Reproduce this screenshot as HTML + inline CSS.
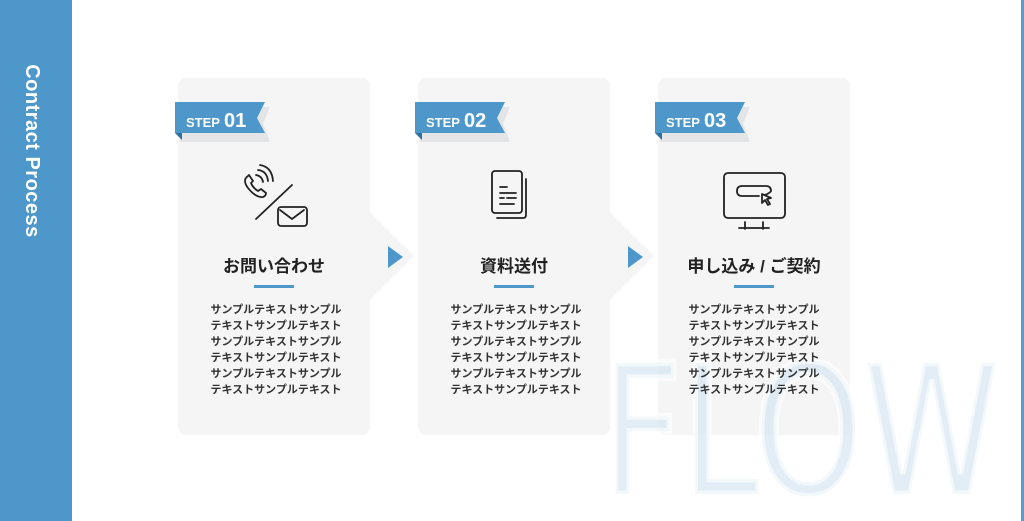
<!DOCTYPE html>
<html><head><meta charset="utf-8"><style>
html,body{margin:0;padding:0;background:#fff;width:1024px;height:521px;overflow:hidden}
svg{display:block}
</style></head><body>
<svg width="1024" height="521" viewBox="0 0 1024 521" xmlns="http://www.w3.org/2000/svg" font-family="'Liberation Sans','Noto Sans CJK JP',sans-serif">
<rect x="0" y="0" width="72" height="521" fill="#4e97cb"/>
<rect x="1021" y="0" width="3" height="521" fill="#5b9ccf"/>
<text transform="translate(26,151) rotate(90)" text-anchor="middle" fill="#fff" font-size="20" font-weight="bold" letter-spacing="0.5">Contract Process</text>

<g fill="#f5f5f5">
<rect x="178" y="78" width="192" height="357" rx="8"/>
<polygon points="370,212 414,256 370,300"/>
<rect x="418" y="78" width="192" height="357" rx="8"/>
<polygon points="610,212 654,256 610,300"/>
<rect x="658" y="78" width="192" height="357" rx="8"/>
</g>
<g fill="#4e97cb">
<polygon points="388,246 403,257 388,268"/>
<polygon points="628,246 643,257 628,268"/>
</g>

<text x="602" y="494" font-size="180" fill="#d6e6f2" fill-opacity="0.7" textLength="398" lengthAdjust="spacingAndGlyphs" font-family="'DejaVu Sans','Liberation Sans',sans-serif" stroke="#fff" stroke-opacity="0.6" stroke-width="7">FLOW</text>

<!-- badges -->
<g id="b1">
<polygon points="180,107 270,107 263,124 270,142 180,142" fill="#e3e4e6"/>
<polygon points="175,102 265,102 257,118 265,133 175,133" fill="#4e97cb"/>
<polygon points="175,133 182,133 182,140" fill="#2f6f9e"/>
</g>
<use href="#b1" x="240"/>
<use href="#b1" x="480"/>
<g fill="#fff" font-weight="bold">
<text x="186" y="127"><tspan font-size="13">STEP</tspan><tspan font-size="20" dx="4">01</tspan></text>
<text x="426" y="127"><tspan font-size="13">STEP</tspan><tspan font-size="20" dx="4">02</tspan></text>
<text x="666" y="127"><tspan font-size="13">STEP</tspan><tspan font-size="20" dx="4">03</tspan></text>
</g>

<!-- icons -->
<g fill="none" stroke="#222" stroke-width="1.8" stroke-linecap="round" stroke-linejoin="round">
<path d="M248,176 q-6,4 0,12 q8,10 15,9 q3,-1 3,-4 l-5,-4 l-3,2 q-5,-3 -7,-8 l2,-2 l-4,-6 z"/>
<path d="M256,175 q6,1 7,7 M258,170 q9,1 10,11 M260,165 q12,2 13,16"/>
<line x1="256" y1="219" x2="292" y2="185"/>
<rect x="278" y="207" width="29" height="19" rx="3"/>
<path d="M280,210 l12,9 l12,-9"/>
<rect x="492" y="171" width="30" height="42" rx="3"/>
<path d="M526,179 v36 q0,3 -3,3 h-26"/>
<path d="M500,187 h7 M500,193 h16 M500,198 h4 M507,198 h9 M500,204 h14"/>
<rect x="724" y="173" width="61" height="45" rx="4"/>
<path d="M745,222 v7 M763,222 v7 M739,228 h30"/>
<path d="M765,195 q5,-2 6,-4 q0,-5 -5,-5 h-24 q-5,0 -5,5 q0,5 5,5 h17"/>
<path d="M762,194 l9,4 l-4,1 l3,5 l-2,1 l-3,-5 l-3,3 z"/>
</g>

<!-- titles -->
<g font-size="17" font-weight="bold" fill="#222" text-anchor="middle">
<text x="274" y="272">お問い合わせ</text>
<text x="514" y="272">資料送付</text>
<text x="754" y="272">申し込み / ご契約</text>
</g>
<g fill="#4e97cb">
<rect x="254" y="285" width="40" height="3"/>
<rect x="494" y="285" width="40" height="3"/>
<rect x="734" y="285" width="40" height="3"/>
</g>
<g font-size="11" fill="#333" text-anchor="middle" font-weight="bold">
<text x="276" y="313">サンプルテキストサンプル</text>
<text x="276" y="329">テキストサンプルテキスト</text>
<text x="276" y="345">サンプルテキストサンプル</text>
<text x="276" y="361">テキストサンプルテキスト</text>
<text x="276" y="377">サンプルテキストサンプル</text>
<text x="276" y="393">テキストサンプルテキスト</text>
<text x="516" y="313">サンプルテキストサンプル</text>
<text x="516" y="329">テキストサンプルテキスト</text>
<text x="516" y="345">サンプルテキストサンプル</text>
<text x="516" y="361">テキストサンプルテキスト</text>
<text x="516" y="377">サンプルテキストサンプル</text>
<text x="516" y="393">テキストサンプルテキスト</text>
<text x="754" y="313">サンプルテキストサンプル</text>
<text x="754" y="329">テキストサンプルテキスト</text>
<text x="754" y="345">サンプルテキストサンプル</text>
<text x="754" y="361">テキストサンプルテキスト</text>
<text x="754" y="377">サンプルテキストサンプル</text>
<text x="754" y="393">テキストサンプルテキスト</text>
</g>
</svg>
</body></html>
